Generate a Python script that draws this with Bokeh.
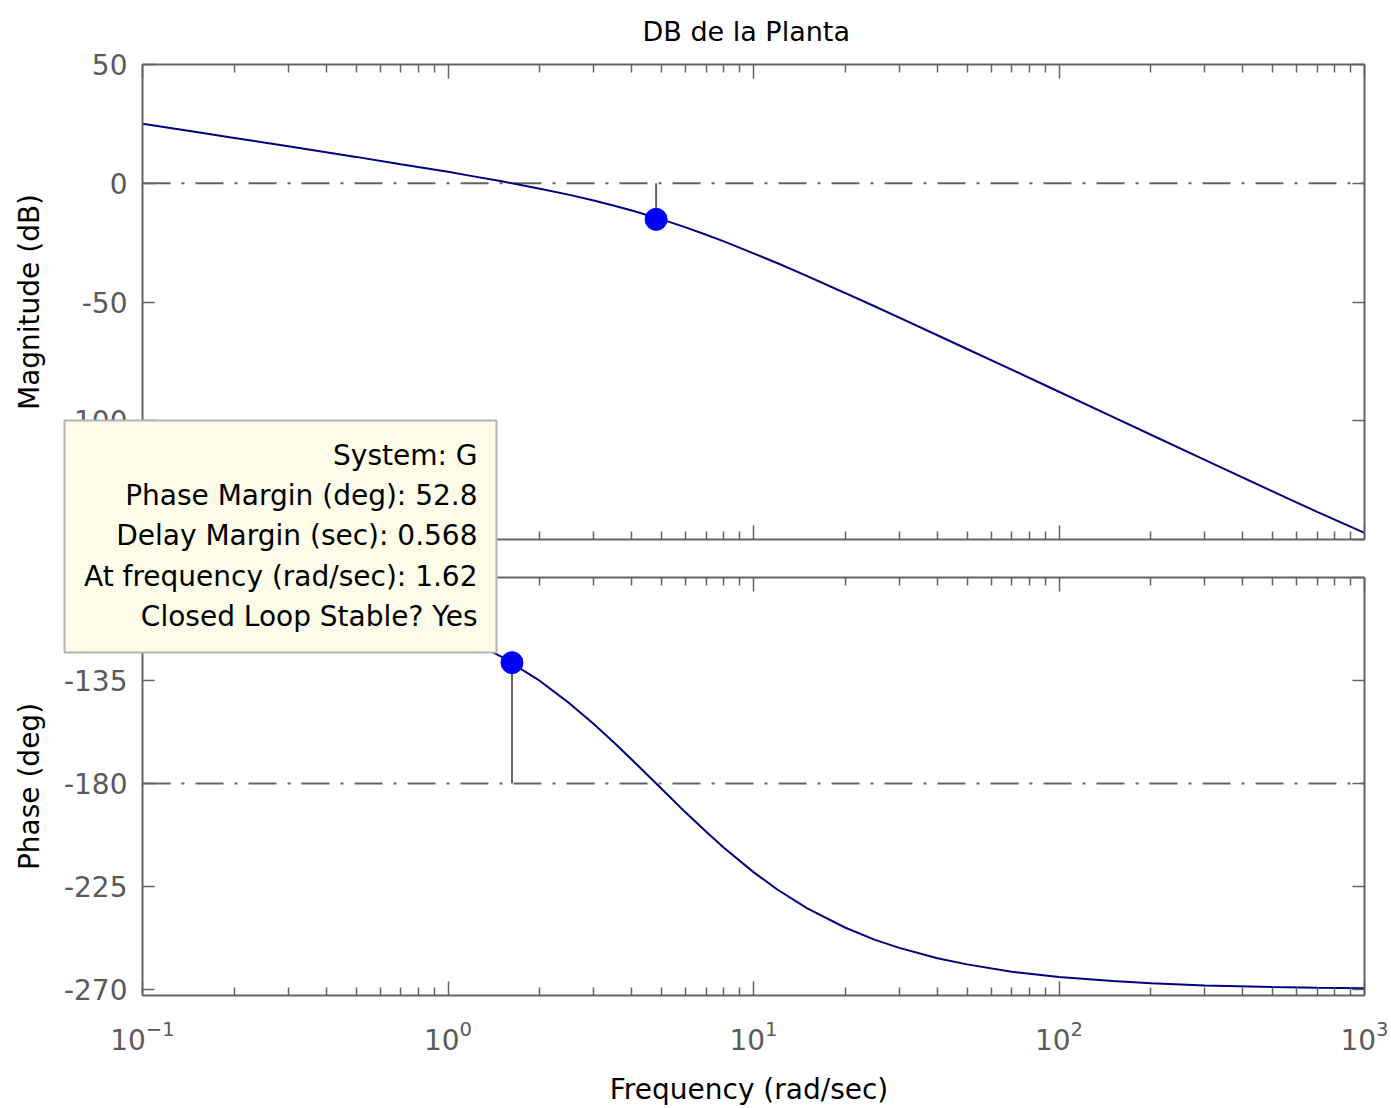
from bokeh.plotting import figure
from bokeh.models import LogAxis, LinearAxis, FixedTicker, Range1d, Span
from bokeh.core.properties import value
from bokeh.layouts import column
from bokeh.embed import file_html
from bokeh.resources import INLINE

# ---- data ----
freq = [0.1, 0.15, 0.2, 0.3, 0.5, 0.7, 1, 1.2, 1.5, 2, 2.5, 3, 3.5, 4, 5, 6, 7, 8,
        10, 12, 15, 20, 25, 30, 40, 50, 70, 100, 150, 200, 300, 500, 700, 1000]
mag_db = [25.1, 21.6, 19.1, 15.6, 11.1, 8.0, 4.8, 3.0, 0.8, -2.3, -4.9, -7.3, -9.5, -11.5,
          -15.2, -18.6, -21.7, -24.5, -29.5, -33.7, -39.1, -46.3, -51.9, -56.6, -64.0,
          -69.8, -78.5, -87.8, -98.4, -105.9, -116.5, -129.7, -138.4, -147.2]
phase_deg = [-92.4, -93.6, -94.8, -97.2, -101.9, -106.6, -113.5, -118.1, -124.7, -135.2,
             -145.0, -154.0, -162.2, -169.6, -182.3, -192.7, -201.1, -208.1, -218.7,
             -226.4, -234.5, -243.0, -248.3, -251.8, -256.3, -259.0, -262.2, -264.5,
             -266.3, -267.3, -268.2, -268.9, -269.2, -269.4]

x_tick_values = [0.1, 1, 10, 100, 1000]
x_minor_ticks = [m * 10.0 ** e for e in range(-1, 3) for m in range(2, 10)]
mag_ticks = [50, 0, -50, -100, -150]
phase_ticks = [-90, -135, -180, -225, -270]

gm_freq, gm_mag = 4.8, -15.2       # gain-margin marker
pm_freq, pm_phase = 1.62, -127.2   # phase-margin marker
mag_ref, phase_ref = 0, -180

tip_lines = ["System: G", "Phase Margin (deg): 52.8", "Delay Margin (sec): 0.568",
             "At frequency (rad/sec): 1.62", "Closed Loop Stable? Yes"]

FONT = "DejaVu Sans"
AX = "#646464"
LBL = "#5a5a5a"
CURVE = "#000080"
MARK = "#0000FF"
DASH = "28 11 3 11"
TIP_BG = "#FCFCE8"
TIP_BORDER = "#B4B4B4"

BL, BR = 142, 24          # left / right borders shared by the panels


def hide_labels(ax):
    ax.major_label_text_font_size = "1px"
    ax.major_label_text_alpha = 0
    ax.major_label_standoff = 0


def style(p, yticks):
    for ax in p.axis:
        ax.axis_line_color = AX
        ax.axis_line_width = 2
        ax.major_tick_line_color = AX
        ax.minor_tick_line_color = AX
        ax.major_tick_line_width = 1.5
        ax.minor_tick_line_width = 1.5
        ax.major_tick_out = 0
        ax.minor_tick_out = 0
        ax.major_label_text_font = FONT
        ax.major_label_text_font_size = "28px"
        ax.major_label_text_color = LBL
        ax.axis_label_text_font = FONT
        ax.axis_label_text_font_size = "28px"
        ax.axis_label_text_font_style = "normal"
        ax.axis_label_text_color = "black"
    for ax in p.xaxis:
        ax.ticker = FixedTicker(ticks=x_tick_values, minor_ticks=x_minor_ticks)
        ax.major_tick_in = 14
        ax.minor_tick_in = 8
        hide_labels(ax)
    for ax in p.yaxis:
        ax.ticker = FixedTicker(ticks=yticks)
        ax.major_tick_in = 12
        ax.minor_tick_in = 0
        ax.major_label_standoff = 15
        ax.major_label_overrides = {v: str(v) for v in yticks}
    for ax in p.right:
        hide_labels(ax)
    p.grid.visible = False
    p.outline_line_color = None
    p.background_fill_color = "white"
    p.border_fill_color = "white"


# ---------------- magnitude panel ----------------
TOP_H = 61 + 475 + 19
top = figure(frame_width=1222, frame_height=475, x_axis_type="log",
             x_range=Range1d(0.1, 1000), y_range=Range1d(-150, 50),
             output_backend="svg", toolbar_location=None,
             min_border_left=BL, min_border_right=BR, min_border_top=61, min_border_bottom=19,
             title="DB de la Planta")
top.add_layout(LogAxis(), "above")
top.add_layout(LinearAxis(), "right")
style(top, mag_ticks)
top.left[0].axis_label = "Magnitude (dB)"
top.left[0].axis_label_standoff = 15
top.title.align = "left"
top.title.offset = 500
top.title.text_font = FONT
top.title.text_font_size = "27px"
top.title.text_font_style = "normal"
top.title.text_color = "black"
top.title.vertical_align = "top"
top.title.standoff = 31

top.add_layout(Span(location=mag_ref, dimension="width", line_color=AX, line_width=2,
                    line_dash=DASH, level="underlay"))
top.line(freq, mag_db, line_color=CURVE, line_width=2)
top.segment(x0=[gm_freq], y0=[mag_ref], x1=[gm_freq], y1=[gm_mag], line_color=AX, line_width=2)
top.scatter([gm_freq], [gm_mag], size=22, fill_color=MARK, line_color=MARK)

# ---------------- phase panel ----------------
BOT_H = 19 + 418 + 115
bot = figure(frame_width=1222, frame_height=418, x_axis_type="log",
             x_range=Range1d(0.1, 1000), y_range=Range1d(-272.6, -90),
             output_backend="svg", toolbar_location=None,
             min_border_left=BL, min_border_right=BR, min_border_top=19, min_border_bottom=115)
bot.add_layout(LogAxis(), "above")
bot.add_layout(LinearAxis(), "right")
style(bot, phase_ticks)
bot.left[0].axis_label = "Phase (deg)"
bot.left[0].axis_label_standoff = 15
xb = bot.below[0]
xb.major_label_text_font_size = "28px"
xb.major_label_text_alpha = 1
xb.major_label_standoff = 24
xb.axis_label = "Frequency  (rad/sec)"
xb.axis_label_standoff = 20

bot.add_layout(Span(location=phase_ref, dimension="width", line_color=AX, line_width=2,
                    line_dash=DASH, level="underlay"))
bot.line(freq, phase_deg, line_color=CURVE, line_width=2)
bot.segment(x0=[pm_freq], y0=[phase_ref], x1=[pm_freq], y1=[pm_phase], line_color=AX, line_width=2)
bot.scatter([pm_freq], [pm_phase], size=22, fill_color=MARK, line_color=MARK)

# ---------------- data-tip box (overlaid on both panels) ----------------
TW, TH = 432, 232
tip = figure(frame_width=TW, frame_height=TH, x_range=Range1d(0, TW), y_range=Range1d(TH, 0),
             output_backend="svg", toolbar_location=None,
             x_axis_location=None, y_axis_location=None,
             min_border_left=BL, min_border_right=BR, min_border_top=2, min_border_bottom=2)
tip.grid.visible = False
tip.outline_line_color = TIP_BORDER
tip.outline_line_width = 2
tip.background_fill_color = TIP_BG
tip.border_fill_color = None
tip.border_fill_alpha = 0
tip.text(x=[413] * 5, y=[35, 75, 115, 156, 196], text=tip_lines,
         text_align="right", text_baseline="middle",
         text_font=value(FONT), text_font_size=value("28px"), text_color="black")

ORIGIN = 1
tip_canvas_top = 418 - 2
tip_canvas_left = 65 - BL
mt = tip_canvas_top - (ORIGIN + TOP_H + BOT_H)
tip_h = TH + 4
mb = (TOP_H + BOT_H) - (TOP_H + BOT_H + mt + tip_h)
tip.margin = (mt, 0, mb, tip_canvas_left - ORIGIN)

layout = column(top, bot, tip, spacing=0)
open("out.html", "w").write(file_html(layout, INLINE))
